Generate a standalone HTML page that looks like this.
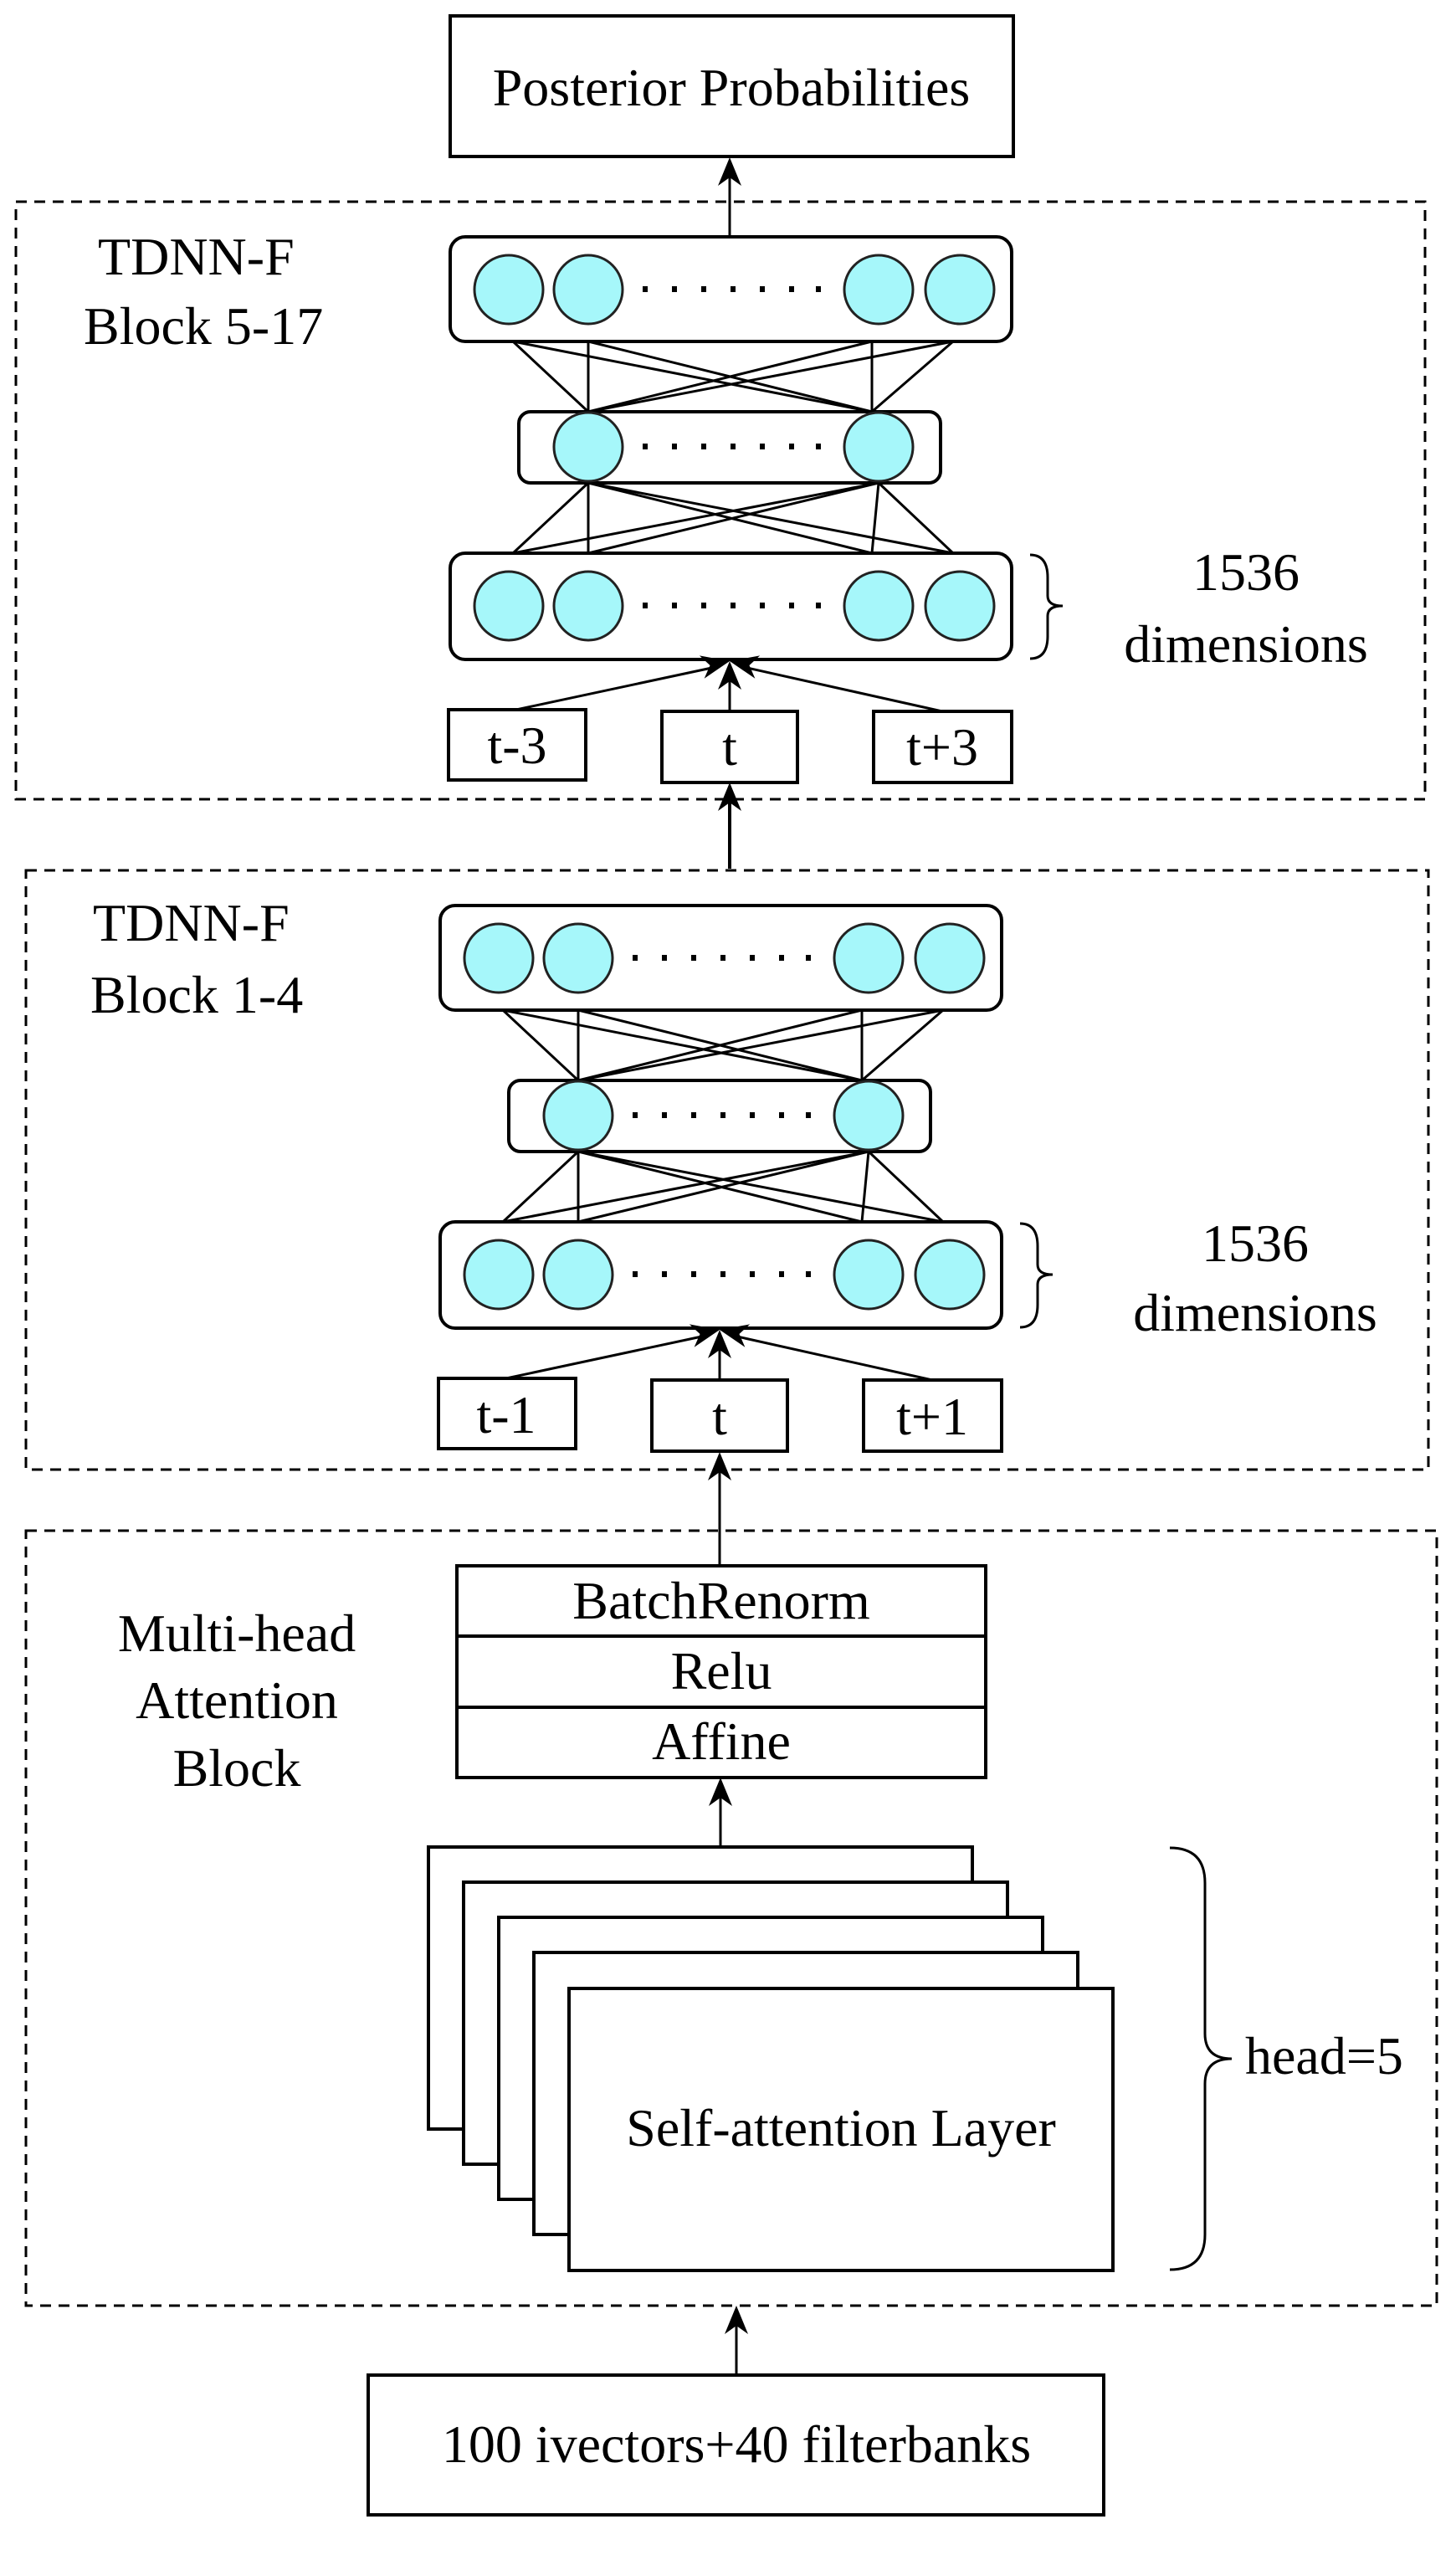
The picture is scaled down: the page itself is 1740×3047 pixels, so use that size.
<!DOCTYPE html>
<html><head><meta charset="utf-8"><style>
html,body{margin:0;padding:0;background:#fff;}
svg{display:block;}
text{font-family:"Liberation Serif",serif;font-size:64px;fill:#000;}
</style></head><body>
<svg width="1740" height="3047" viewBox="0 0 1740 3047" xmlns="http://www.w3.org/2000/svg">
<defs>
<marker id="ah" markerWidth="10" markerHeight="10" refX="9" refY="5" orient="auto" markerUnits="userSpaceOnUse" viewBox="0 0 10 10">
</marker>
<g id="arrowhead"><path d="M0,0 L-14,34 L0,24 L14,34 Z" fill="#000"/></g>
</defs>
<g fill="none" stroke="#000">
<!-- Posterior -->
<rect x="538" y="19" width="673" height="168" stroke-width="4"/>
<!-- dashed boxes -->
<rect x="19" y="241" width="1684" height="714" stroke-width="3" stroke-dasharray="13,9"/>
<rect x="31" y="1040" width="1676" height="716" stroke-width="3" stroke-dasharray="13,9"/>
<rect x="31" y="1829" width="1686" height="926" stroke-width="3" stroke-dasharray="13,9"/>
<!-- arrows lines -->
<line x1="872" y1="283" x2="872" y2="200" stroke-width="3"/>
<line x1="872" y1="1038" x2="872" y2="945" stroke-width="4"/>
<line x1="860" y1="1871" x2="860" y2="1745" stroke-width="3"/>
<line x1="861" y1="2207" x2="861" y2="2134" stroke-width="3"/>
<line x1="880" y1="2838" x2="880" y2="2765" stroke-width="3"/>
</g>
<use href="#arrowhead" x="872" y="188"/>
<use href="#arrowhead" x="872" y="935"/>
<use href="#arrowhead" x="860" y="1735"/>
<use href="#arrowhead" x="861" y="2124"/>
<use href="#arrowhead" x="880" y="2755"/>
<text x="874" y="126" text-anchor="middle" font-size="66">Posterior Probabilities</text>

<!-- Block 5-17 -->
<g transform="translate(0,0)">
<text x="117" y="328" font-size="66">TDNN-F</text>
<text x="100" y="411" font-size="66">Block 5-17</text>
</g>
<g id="tdnnA">
<g stroke="#000" stroke-width="3" fill="none">
<line x1="613" y1="408" x2="703" y2="492"/><line x1="613" y1="408" x2="1042" y2="492"/>
<line x1="703" y1="408" x2="703" y2="492"/><line x1="703" y1="408" x2="1042" y2="492"/>
<line x1="1042" y1="408" x2="703" y2="492"/><line x1="1042" y1="408" x2="1042" y2="492"/>
<line x1="1139" y1="408" x2="703" y2="492"/><line x1="1139" y1="408" x2="1042" y2="492"/>
<line x1="703" y1="577" x2="613" y2="661"/><line x1="703" y1="577" x2="703" y2="661"/>
<line x1="703" y1="577" x2="1042" y2="661"/><line x1="703" y1="577" x2="1139" y2="661"/>
<line x1="1050" y1="577" x2="613" y2="661"/><line x1="1050" y1="577" x2="703" y2="661"/>
<line x1="1050" y1="577" x2="1042" y2="661"/><line x1="1050" y1="577" x2="1139" y2="661"/>
</g>
<g stroke="#000" stroke-width="4" fill="#fff">
<rect x="538" y="283" width="671" height="125" rx="18"/>
<rect x="620" y="492" width="504" height="85" rx="14"/>
<rect x="538" y="661" width="671" height="127" rx="18"/>
</g>
<g stroke="#222" stroke-width="3" fill="#a6f7fa">
<ellipse cx="608" cy="346" rx="41" ry="41"/><ellipse cx="703" cy="346" rx="41" ry="41"/>
<ellipse cx="1050" cy="346" rx="41" ry="41"/><ellipse cx="1147" cy="346" rx="41" ry="41"/>
<ellipse cx="703" cy="534" rx="41" ry="41"/><ellipse cx="1050" cy="534" rx="41" ry="41"/>
<ellipse cx="608" cy="724" rx="41" ry="41"/><ellipse cx="703" cy="724" rx="41" ry="41"/>
<ellipse cx="1050" cy="724" rx="41" ry="41"/><ellipse cx="1147" cy="724" rx="41" ry="41"/>
</g>
<g fill="#000">
<rect x="768" y="342" width="6" height="7"/><rect x="803" y="342" width="6" height="7"/><rect x="838" y="342" width="6" height="7"/><rect x="873" y="342" width="6" height="7"/><rect x="908" y="342" width="6" height="7"/><rect x="943" y="342" width="6" height="7"/><rect x="975" y="342" width="6" height="7"/>
<rect x="768" y="530" width="6" height="7"/><rect x="803" y="530" width="6" height="7"/><rect x="838" y="530" width="6" height="7"/><rect x="873" y="530" width="6" height="7"/><rect x="908" y="530" width="6" height="7"/><rect x="943" y="530" width="6" height="7"/><rect x="975" y="530" width="6" height="7"/>
<rect x="768" y="720" width="6" height="7"/><rect x="803" y="720" width="6" height="7"/><rect x="838" y="720" width="6" height="7"/><rect x="873" y="720" width="6" height="7"/><rect x="908" y="720" width="6" height="7"/><rect x="943" y="720" width="6" height="7"/><rect x="975" y="720" width="6" height="7"/>
</g>
<path d="M1231,663 Q1252,663 1252,690 L1252,712 Q1252,724 1270,724 Q1252,724 1252,736 L1252,760 Q1252,787 1231,787" fill="none" stroke="#000" stroke-width="3"/>
<text x="1489" y="705" text-anchor="middle" font-size="66">1536</text>
<text x="1489" y="791" text-anchor="middle" font-size="66">dimensions</text>
<g stroke="#000" stroke-width="4" fill="#fff">
<rect x="536" y="848" width="164" height="84"/>
<rect x="791" y="850" width="162" height="85"/>
<rect x="1044" y="850" width="165" height="85"/>
</g>
<g stroke="#000" stroke-width="3">
<line x1="617" y1="848" x2="860" y2="796"/>
<line x1="872" y1="850" x2="872" y2="800"/>
<line x1="1126" y1="850" x2="884" y2="796"/>
</g>
<use href="#arrowhead" x="872" y="790"/>
<g transform="translate(872,790) rotate(-78)"><use href="#arrowhead" x="0" y="0"/></g>
<g transform="translate(872,790) rotate(78)"><use href="#arrowhead" x="0" y="0"/></g>
</g>
<text x="618" y="912" text-anchor="middle" font-size="64">t-3</text>
<text x="872" y="914" text-anchor="middle" font-size="64">t</text>
<text x="1126" y="914" text-anchor="middle" font-size="64">t+3</text>

<!-- Block 1-4 : shift by (-12, 799) -->
<text x="111" y="1124" font-size="66">TDNN-F</text>
<text x="108" y="1210" font-size="66">Block 1-4</text>
<g transform="translate(-12,799)">
<use href="#tdnnA"/>
</g>
<!-- overlay corrections for text in block 2: cover old labels then draw -->
<g fill="#fff">
<rect x="527" y="1651" width="157" height="78"/>
<rect x="782" y="1653" width="156" height="79"/>
<rect x="1036" y="1653" width="158" height="79"/>
<rect x="1300" y="1430" width="390" height="175"/>
</g>
<text x="605" y="1712" text-anchor="middle" font-size="64">t-1</text>
<text x="860" y="1714" text-anchor="middle" font-size="64">t</text>
<text x="1114" y="1714" text-anchor="middle" font-size="64">t+1</text>
<text x="1500" y="1507" text-anchor="middle" font-size="66">1536</text>
<text x="1500" y="1590" text-anchor="middle" font-size="66">dimensions</text>

<!-- Multi-head block -->
<text x="283" y="1973" text-anchor="middle" font-size="64">Multi-head</text>
<text x="283" y="2053" text-anchor="middle" font-size="64">Attention</text>
<text x="283" y="2134" text-anchor="middle" font-size="64">Block</text>
<g stroke="#000" stroke-width="4" fill="#fff">
<rect x="546" y="1871" width="632" height="253"/>
<line x1="546" y1="1955" x2="1178" y2="1955"/>
<line x1="546" y1="2040" x2="1178" y2="2040"/>
</g>
<text x="862" y="1934" text-anchor="middle" font-size="62">BatchRenorm</text>
<text x="862" y="2018" text-anchor="middle" font-size="62">Relu</text>
<text x="862" y="2102" text-anchor="middle" font-size="62">Affine</text>
<g stroke="#000" stroke-width="4" fill="#fff">
<rect x="512" y="2207" width="650" height="337"/>
<rect x="554" y="2249" width="650" height="337"/>
<rect x="596" y="2291" width="650" height="337"/>
<rect x="638" y="2333" width="650" height="337"/>
<rect x="680" y="2376" width="650" height="337"/>
</g>
<text x="1005" y="2564" text-anchor="middle" font-size="64">Self-attention Layer</text>
<path d="M1398,2208 Q1440,2208 1440,2250 L1440,2430 Q1440,2460 1472,2460 Q1440,2460 1440,2490 L1440,2670 Q1440,2712 1398,2712" fill="none" stroke="#000" stroke-width="3"/>
<text x="1488" y="2478" font-size="64">head=5</text>

<rect x="440" y="2838" width="879" height="167" fill="#fff" stroke="#000" stroke-width="4"/>
<text x="880" y="2942" text-anchor="middle" font-size="64">100 ivectors+40 filterbanks</text>
</svg>
</body></html>
